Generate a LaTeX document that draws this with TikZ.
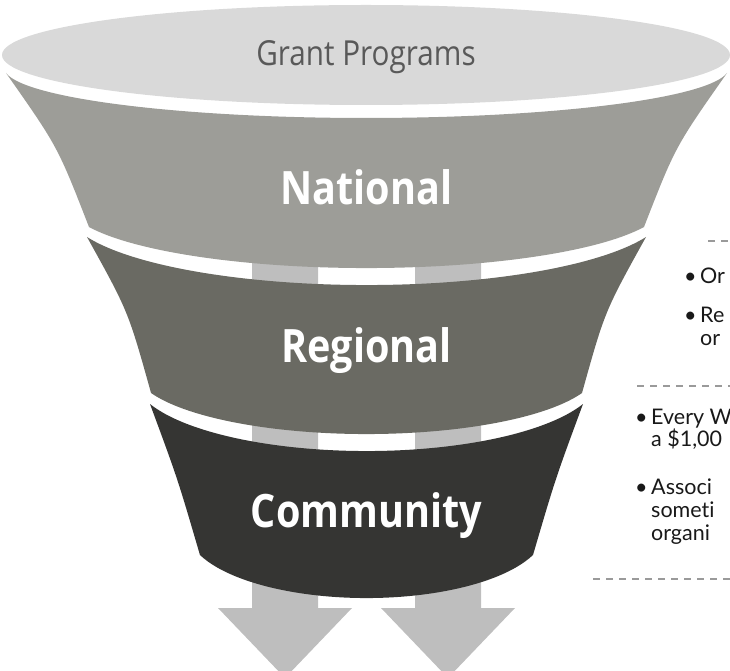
\documentclass[tikz,border=0pt]{standalone}
\usepackage{fontspec}
\setmainfont[Ligatures=NoCommon]{Lato}
\newfontfamily\labelfont[FakeStretch=0.86]{Open Sans}
\newcommand{\notefont}{\fontsize{21.5}{23}\selectfont}
\newcommand{\bulletbox}{\makebox[16pt][l]{•}}
\definecolor{capgray}{HTML}{D9D9D9}
\definecolor{natgray}{HTML}{9D9D98}
\definecolor{reggray}{HTML}{6A6A63}
\definecolor{comgray}{HTML}{353533}
\definecolor{arrowgray}{HTML}{BEBEBE}
\definecolor{titlegray}{HTML}{595959}
\definecolor{dashgray}{HTML}{9A9A9A}
\newcommand{\grantarrow}[1]{
	\fill[arrowgray] (#1-33,430) -- (#1+33,430) -- (#1+33,62) -- (#1+67,62)
		-- (#1,-8) -- (#1-67,62) -- (#1-33,62) -- cycle;
}

\begin{document}
\begin{tikzpicture}[x=1pt,y=1pt,
	bandlabel/.style={text=white, font=\labelfont\bfseries\fontsize{46}{46}\selectfont},
	note/.style={font=\notefont, anchor=mid west, inner sep=0pt, text=black!90},
	notedash/.style={dashgray, line width=1.2pt, dash pattern=on 7pt off 6pt}]
	\path[use as bounding box, clip] (0,0) rectangle (730,670);

	% arrows behind the funnel
	\grantarrow{285}
	\grantarrow{448}

	\coordinate (natTL) at (6,597);
	\coordinate (natBR) at (644,443);
	\coordinate (regTL) at (87,433);
	\coordinate (regBR) at (582,277);
	\coordinate (comTL) at (150,266);
	\coordinate (comBR) at (533,115);

	\fill[natgray] (natTL) arc[start angle=186, end angle=354, x radius=362.5, y radius=50.25]
		.. controls (675.3,523.4) .. (natBR)
		arc[start angle=338, end angle=202, x radius=299.3, y radius=65.6]
		.. controls (57.7,523.4) .. (natTL) -- cycle;
	\fill[reggray] (regTL) arc[start angle=202, end angle=338, x radius=301.45, y radius=76.8]
		.. controls (604.8,358.8) .. (regBR)
		arc[start angle=338, end angle=202, x radius=232.4, y radius=65.6]
		.. controls (128.2,358.8) .. (regTL) -- cycle;
	\fill[comgray] (comTL) arc[start angle=202, end angle=338, x radius=233.5, y radius=75.2]
		.. controls (555.4,191.4) .. (comBR)
		arc[start angle=338, end angle=202, x radius=179.6, y radius=68.8]
		.. controls (177.6,191.4) .. (comTL) -- cycle;

	\fill[capgray] (366,615) ellipse[x radius=364, y radius=50];
	\node[font=\labelfont\fontsize{34.5}{34.5}\selectfont, text=titlegray] (grant) at (366,613) {Grant Programs};

	\node[bandlabel] (national) at (366.5,483) {National};
	\node[bandlabel] (regional) at (366.5,319) {Regional};
	\node[bandlabel] (community) at (366.5,154) {Community};

	% notes on the right, cut by the page edge
	\draw[notedash] (708,429) -- (730,429);
	\node[note] (or1) at (684,389) {\bulletbox Or};
	\node[note] (re1) at (684,350) {\bulletbox Re};
	\node[note] (re2) at (700,327) {or};
	\draw[notedash] (637,284) -- (730,284);
	\node[note] (every1) at (635,248) {\bulletbox Every W};
	\node[note] (every2) at (651,226) {a \$1,00};
	\node[note] (assoc1) at (635,178) {\bulletbox Associ};
	\node[note] (assoc2) at (651,155) {someti};
	\node[note] (assoc3) at (651,132) {organi};
	\draw[notedash] (593,91) -- (730,91);
\end{tikzpicture}
\end{document}
